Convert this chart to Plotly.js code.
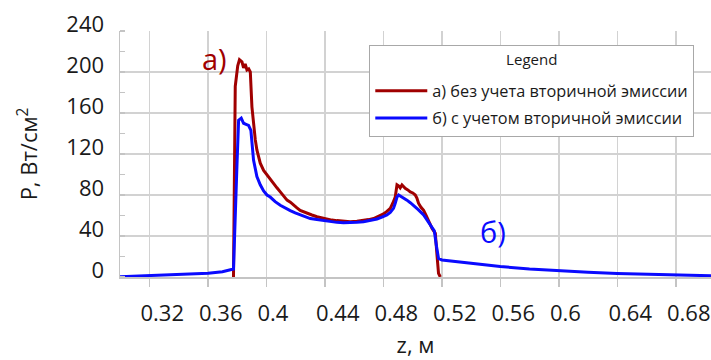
<!DOCTYPE html>
<html>
<head>
<meta charset="utf-8">
<script src="https://cdn.plot.ly/plotly-3.0.1.min.js"></script>
<style>html,body{margin:0;padding:0;background:#fff;}#chart{width:711px;height:360px;}</style>
</head>
<body>
<div id="chart"></div>
<script>
// а) без учета вторичной эмиссии
const z_a = [0.3776, 0.3788, 0.3805, 0.3817, 0.3834, 0.3845, 0.3856, 0.3868, 0.3880, 0.3891, 0.3902, 0.3914, 0.3925, 0.3936, 0.3948, 0.3959, 0.3982, 0.4005, 0.4028, 0.4050, 0.4073, 0.4096, 0.4119, 0.4142, 0.4165, 0.4187, 0.4210, 0.4232, 0.4255, 0.4278, 0.4312, 0.4347, 0.4381, 0.4415, 0.4449, 0.4483, 0.4528, 0.4574, 0.4620, 0.4665, 0.4700, 0.4734, 0.4768, 0.4802, 0.4825, 0.4848, 0.4865, 0.4882, 0.4894, 0.4905, 0.4916, 0.4928, 0.4940, 0.4950, 0.4968, 0.4985, 0.5002, 0.5019, 0.5030, 0.5041, 0.5058, 0.5076, 0.5093, 0.5110, 0.5122, 0.5133, 0.5145, 0.5156, 0.5167, 0.5178, 0.5190];
const p_a = [0, 186, 206, 212, 210, 204, 208, 202, 203, 200, 166, 148, 134, 124, 116, 111, 104, 99.5, 96, 91.4, 87, 83, 79.5, 75, 73, 70, 67.5, 65, 63.5, 62, 60.5, 58.8, 57.5, 56.3, 55.5, 55, 54.6, 54, 54.4, 55, 56, 57, 59, 61.5, 64, 67, 72, 78, 90, 89, 87, 89.8, 88, 86.5, 85, 83, 82, 80, 77, 72, 68, 65, 60, 55.6, 51, 47.5, 45, 42.6, 22, 3.6, 0];

// б) с учетом вторичной эмиссии
const z_b = [0.3000, 0.3207, 0.3412, 0.3603, 0.3700, 0.3765, 0.3776, 0.3800, 0.3811, 0.3829, 0.3845, 0.3862, 0.3879, 0.3895, 0.3904, 0.3913, 0.3936, 0.3959, 0.3982, 0.4005, 0.4027, 0.4061, 0.4096, 0.4130, 0.4164, 0.4198, 0.4232, 0.4267, 0.4301, 0.4346, 0.4392, 0.4437, 0.4483, 0.4528, 0.4574, 0.4620, 0.4665, 0.4711, 0.4757, 0.4791, 0.4825, 0.4848, 0.4870, 0.4882, 0.4894, 0.4905, 0.4917, 0.4928, 0.4945, 0.4962, 0.4985, 0.5007, 0.5041, 0.5076, 0.5099, 0.5121, 0.5135, 0.5149, 0.5164, 0.5178, 0.5201, 0.5400, 0.5600, 0.5800, 0.6000, 0.6200, 0.6400, 0.6700, 0.7000, 0.7041];
const p_b = [0.3, 1.2, 2.2, 3.6, 5.2, 7.5, 7.8, 110, 153, 155, 150, 149, 148, 143, 130, 114, 98, 90, 84, 80, 78, 73.5, 70, 67, 64.7, 62.5, 60.5, 58.5, 57, 56, 55, 54, 53.3, 53, 53, 53.4, 54, 55, 56.6, 58.5, 60.5, 63, 67, 72, 78, 80, 79, 78.3, 76.5, 75, 72.5, 70, 65.5, 60.5, 55.5, 50.7, 48, 45, 30, 18, 16.6, 13.2, 10.2, 7.8, 6.0, 4.6, 3.5, 2.3, 1.3, 1.2];

const xTickVals = [0.32, 0.36, 0.40, 0.44, 0.48, 0.52, 0.56, 0.60, 0.64, 0.68];
const xTickText = ['0.32', '0.36', '0.4\u2007', '0.44', '0.48', '0.52', '0.56', '0.6\u2007', '0.64', '0.68'];
const yTickVals = [0, 40, 80, 120, 160, 200, 240];
const yTickText = ['0', '40', '80', '120', '160', '200', '240'];

const nameA = 'а) без учета вторичной эмиссии';
const nameB = 'б) с учетом вторичной эмиссии';
const legendTitle = 'Legend';
const labelA = 'а)';
const labelB = 'б)';

const FONT = 'Open Sans, Noto Sans, DejaVu Sans, sans-serif';
const RED = '#a00000';
const BLUE = '#0a0aff';

const traces = [
  {x: z_a, y: p_a, type: 'scatter', mode: 'lines', name: nameA, legendgroup: 'a',
   line: {color: RED, width: 3}},
  {x: z_b, y: p_b, type: 'scatter', mode: 'lines', name: nameB, legendgroup: 'b',
   line: {color: BLUE, width: 3}}
];

const layout = {
  width: 711, height: 360,
  margin: {l: 120, r: 0, t: 31, b: 83, pad: 0},
  paper_bgcolor: '#fff', plot_bgcolor: '#fff',
  font: {family: FONT, color: '#1a1a1a'},
  showlegend: true,
  xaxis: {
    range: [0.30, 0.7041], autorange: false,
    tickmode: 'array', tickvals: xTickVals, ticktext: xTickText,
    ticks: 'outside', ticklen: 8, tickwidth: 1.5, tickcolor: '#c4c4c4',
    ticklabelshift: 13, ticklabelstandoff: 8,
    tickfont: {family: FONT, size: 22, color: '#1a1a1a'},
    showgrid: true, gridcolor: '#d2d2d2', gridwidth: 1.5,
    showline: true, linecolor: '#c4c4c4', linewidth: 1.5,
    zeroline: false,
    title: {text: 'z, м', font: {family: FONT, size: 22, color: '#1a1a1a'}, standoff: 11}
  },
  yaxis: {
    range: [0, 240], autorange: false,
    tickmode: 'array', tickvals: yTickVals, ticktext: yTickText,
    ticks: '', ticklabelshift: -7, ticklabelstandoff: 10,
    tickfont: {family: FONT, size: 22, color: '#1a1a1a'},
    showgrid: true, gridcolor: '#d2d2d2', gridwidth: 1.5,
    showline: true, linecolor: '#c4c4c4', linewidth: 1.5,
    zeroline: false,
    minor: {dtick: 20, tick0: 0, ticks: 'inside', ticklen: 5, tickwidth: 1.5, tickcolor: '#c4c4c4', showgrid: false},
    title: {text: 'P, Вт/см<sup>2</sup>', font: {family: FONT, size: 22, color: '#1a1a1a'}, standoff: 22}
  },
  legend: {
    x: 0.4218, y: 0.944, xanchor: 'left', yanchor: 'top',
    bgcolor: '#ffffff', bordercolor: '#a8a8a8', borderwidth: 1,
    font: {family: FONT, size: 16.3, color: '#1a1a1a'},
    title: {text: '<sup>' + legendTitle + '</sup>', side: 'top center',
            font: {family: FONT, size: 21.5, color: '#1a1a1a'}},
    itemwidth: 52, tracegroupgap: 3, traceorder: 'grouped'
  },
  annotations: [
    {x: 0.3644, y: 213, xref: 'x', yref: 'y', text: labelA, showarrow: false,
     xanchor: 'center', yanchor: 'middle', font: {family: FONT, size: 29, color: RED}},
    {x: 0.5549, y: 44, xref: 'x', yref: 'y', text: labelB, showarrow: false,
     xanchor: 'center', yanchor: 'middle', font: {family: FONT, size: 29, color: BLUE}}
  ]
};

Plotly.newPlot('chart', traces, layout, {displayModeBar: false, staticPlot: true});
</script>
</body>
</html>
